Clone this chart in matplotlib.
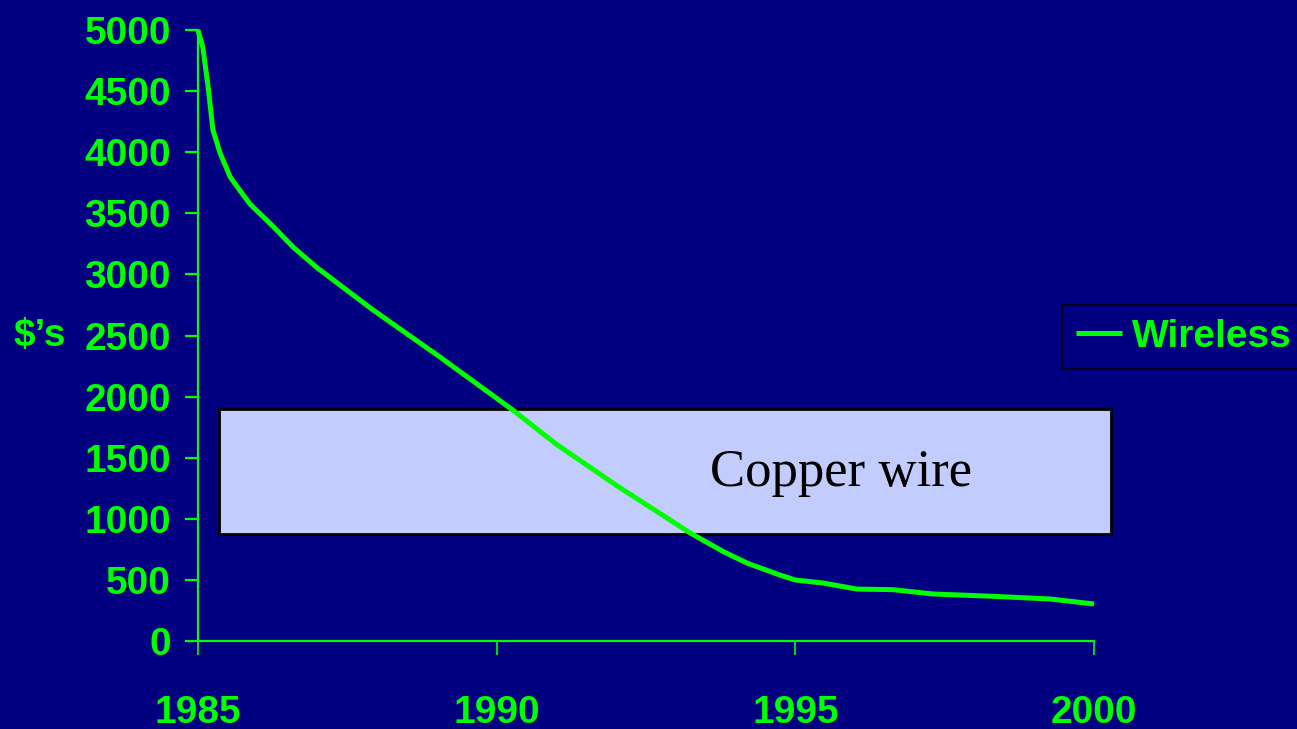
import matplotlib
matplotlib.use("Agg")
import matplotlib.pyplot as plt
from matplotlib.patches import Rectangle

# Data
years = [1985.0, 1985.08, 1985.17, 1985.25, 1985.37, 1985.54, 1985.7, 1985.87,
         1986.25, 1986.6, 1987.0, 1987.93, 1989.05, 1990.27, 1991.0, 1992.0,
         1993.24, 1993.8, 1994.19, 1994.74, 1995.0, 1995.46, 1996.03, 1996.64,
         1997.3, 1998.2, 1999.26, 2000.0]
wireless = [5000, 4861, 4533, 4182, 3993, 3797, 3688, 3576,
            3396, 3220, 3052, 2709, 2324, 1890, 1610, 1275,
            884, 730, 638, 540, 499, 475, 425, 420,
            385, 368, 344, 303]
copper_low, copper_high = 876, 1898
copper_x0, copper_x1 = 1985.35, 2000.29
xticks = [1985, 1990, 1995, 2000]
yticks = list(range(0, 5001, 500))

NAVY = "#000080"
GREEN = "#00FF00"

fig = plt.figure(figsize=(12.97, 7.29), dpi=100, facecolor=NAVY)
ax = fig.add_axes([198/1297, 1 - 641/729, (1094-198)/1297, (641-30)/729])
ax.set_facecolor(NAVY)

ax.add_patch(Rectangle((copper_x0, copper_low), copper_x1 - copper_x0,
                       copper_high - copper_low, facecolor="#C2CCFF",
                       edgecolor="black", linewidth=2, clip_on=False, zorder=1))
ax.text((copper_x0 + copper_x1) / 2 + 2.95, (copper_low + copper_high) / 2 - 15,
        "Copper wire", family="Liberation Serif", fontsize=38, color="black",
        ha="center", va="center", zorder=2)

ax.plot(years, wireless, color=GREEN, linewidth=3.6, solid_joinstyle="round",
        solid_capstyle="butt", label="Wireless", zorder=3, clip_on=False)

ax.set_xlim(1985, 2000)
ax.set_ylim(0, 5000)
for s in ["top", "right"]:
    ax.spines[s].set_visible(False)
for s in ["left", "bottom"]:
    ax.spines[s].set_color(GREEN)
    ax.spines[s].set_linewidth(1.6)

ax.set_xticks(xticks)
ax.set_yticks(yticks)
ax.set_xticklabels([str(x) for x in xticks])
ax.set_yticklabels([str(y) for y in yticks])
ax.tick_params(axis="y", direction="out", length=9.5, width=1.6, colors=GREEN,
               labelsize=28, pad=10)
ax.tick_params(axis="x", direction="out", length=10, width=1.2, colors=GREEN,
               labelsize=28, pad=29)
for lab in ax.get_xticklabels() + ax.get_yticklabels():
    lab.set_family("Liberation Sans")
    lab.set_fontweight("bold")
    lab.set_color(GREEN)

fig.text(40/1297, 1 - 336/729, "$\u2019s", family="Liberation Sans",
         fontweight="bold", fontsize=28, color=GREEN, ha="center", va="center")

leg = ax.legend(loc="center left", bbox_to_anchor=(1062/1297, 1 - 337/729),
                bbox_transform=fig.transFigure, frameon=True, fancybox=False,
                prop={"family": "Liberation Sans", "weight": "bold", "size": 28},
                handlelength=1.2, handletextpad=0.25, borderpad=0.35,
                borderaxespad=0)
leg.get_frame().set_facecolor(NAVY)
leg.get_frame().set_edgecolor("black")
leg.get_frame().set_linewidth(1.5)
for t in leg.get_texts():
    t.set_color(GREEN)

fig.savefig("out.png", dpi=100, facecolor=NAVY)
